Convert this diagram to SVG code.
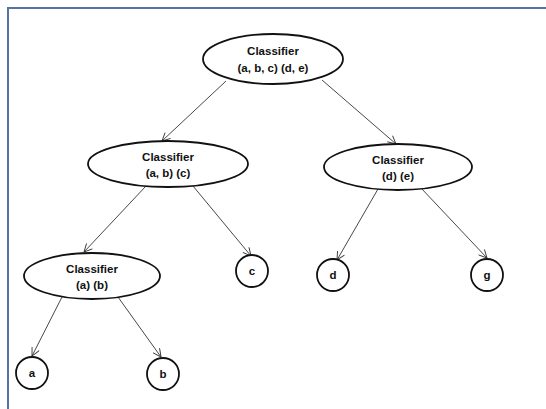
<svg xmlns="http://www.w3.org/2000/svg" width="546" height="409" viewBox="0 0 546 409">
<style>
.frame{fill:none;stroke:#5573a3;stroke-width:2}
.node{fill:#fff;stroke:#111;stroke-width:1.8}
.lbl{font-family:"Liberation Sans",Arial,sans-serif;font-weight:bold;font-size:11.5px;fill:#111;text-anchor:middle}
.edge{fill:none;stroke:#333;stroke-width:0.9;marker-end:url(#arr)}
</style>
<defs>
<marker id="arr" markerUnits="userSpaceOnUse" markerWidth="10" markerHeight="10" refX="9" refY="4.5" orient="auto">
<path d="M1,0.5 L9,4.5 L1,8.5" fill="none" stroke="#333" stroke-width="0.9"/>
</marker>
</defs>
<rect width="546" height="409" fill="#fff"/>
<path class="frame" d="M8,409 L8,8 L546,8"/>
<g id="connectors">
<line class="edge" x1="226" y1="81" x2="162" y2="141"/>
<line class="edge" x1="322" y1="80" x2="396" y2="144"/>
<line class="edge" x1="146" y1="186" x2="84" y2="252"/>
<line class="edge" x1="193" y1="186" x2="251" y2="256"/>
<line class="edge" x1="378" y1="189" x2="337" y2="260"/>
<line class="edge" x1="421" y1="188" x2="487" y2="258"/>
<line class="edge" x1="62" y1="297" x2="32" y2="356"/>
<line class="edge" x1="118" y1="297" x2="161" y2="357"/>
</g>
<g id="root">
<ellipse class="node" cx="273" cy="59" rx="70" ry="25"/>
<text class="lbl" x="273" y="55">Classifier</text>
<text class="lbl" x="273" y="72">(a, b, c) (d, e)</text>
</g>
<g id="abc">
<ellipse class="node" cx="168" cy="164" rx="80" ry="23"/>
<text class="lbl" x="168" y="161">Classifier</text>
<text class="lbl" x="168" y="177">(a, b) (c)</text>
</g>
<g id="de">
<ellipse class="node" cx="398" cy="167" rx="74" ry="23"/>
<text class="lbl" x="398" y="164">Classifier</text>
<text class="lbl" x="398" y="180">(d) (e)</text>
</g>
<g id="ab">
<ellipse class="node" cx="92" cy="276" rx="68" ry="23"/>
<text class="lbl" x="92" y="273">Classifier</text>
<text class="lbl" x="92" y="289">(a) (b)</text>
</g>
<g id="c">
<circle class="node" cx="252" cy="271" r="16"/>
<text class="lbl" x="252" y="275">c</text>
</g>
<g id="d">
<circle class="node" cx="333" cy="275" r="16"/>
<text class="lbl" x="333" y="279">d</text>
</g>
<g id="g">
<circle class="node" cx="487" cy="275" r="16"/>
<text class="lbl" x="487" y="279">g</text>
</g>
<g id="a">
<circle class="node" cx="32" cy="373" r="16"/>
<text class="lbl" x="32" y="377">a</text>
</g>
<g id="b">
<circle class="node" cx="163" cy="374" r="16"/>
<text class="lbl" x="163" y="378">b</text>
</g>
</svg>
